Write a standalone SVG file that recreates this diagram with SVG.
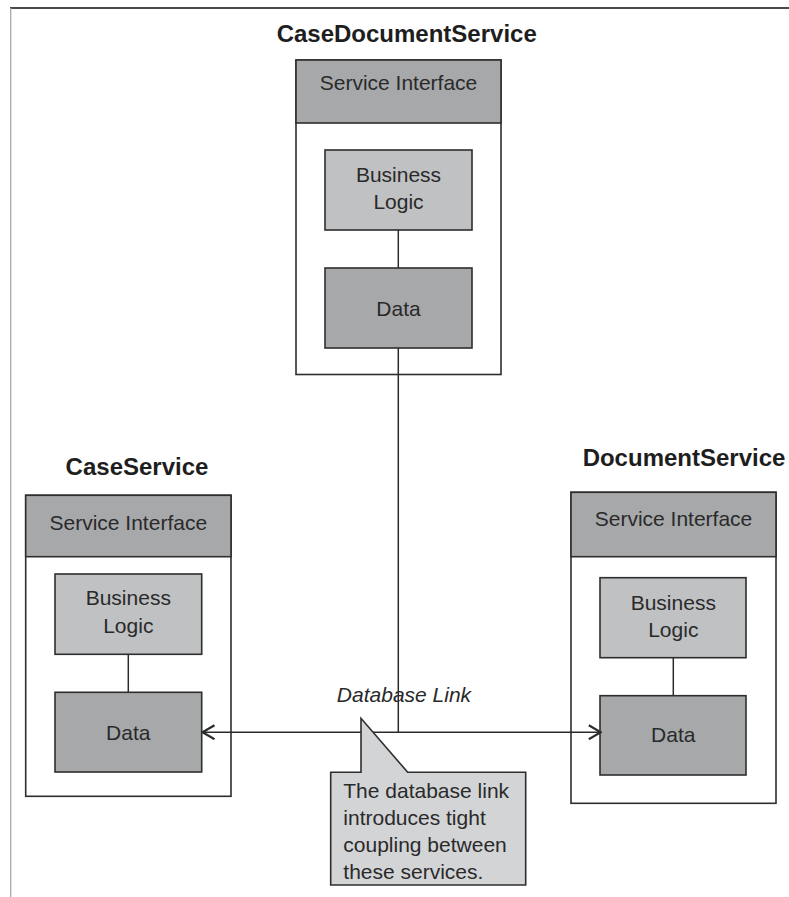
<svg xmlns="http://www.w3.org/2000/svg" width="789" height="897" viewBox="0 0 789 897">
  <style>
    .frame-top { stroke: #4a4a4a; stroke-width: 2; }
    .frame-left { stroke: #a8a8a8; stroke-width: 1.3; }
    .outer { fill: #ffffff; stroke: #2e2e2e; stroke-width: 1.6; }
    .iface { fill: #a7a8aa; stroke: #2e2e2e; stroke-width: 1.6; }
    .logic { fill: #c0c1c3; stroke: #2e2e2e; stroke-width: 1.6; }
    .data { fill: #a7a8aa; stroke: #2e2e2e; stroke-width: 1.6; }
    .note { fill: #d3d4d6; stroke: #2e2e2e; stroke-width: 1.6; stroke-linejoin: miter; }
    .link { fill: none; stroke: #2b2b2b; stroke-width: 1.5; }
    .title { font-family: "Liberation Sans", Arial, sans-serif; font-weight: bold; font-size: 24px; fill: #1e1e1e; text-anchor: middle; }
    .label { font-family: "Liberation Sans", Arial, sans-serif; font-size: 21px; fill: #2a2a2a; text-anchor: middle; }
    .italic { font-family: "Liberation Sans", Arial, sans-serif; font-style: italic; font-size: 21px; fill: #2a2a2a; text-anchor: middle; }
    .note-text { font-family: "Liberation Sans", Arial, sans-serif; font-size: 21px; fill: #2a2a2a; }
  </style>
  <defs>
    <marker id="chevron" viewBox="0 0 14 16" refX="13" refY="8" markerWidth="14" markerHeight="16" markerUnits="userSpaceOnUse" orient="auto-start-reverse">
      <path d="M1,1 L13,8 L1,15" fill="none" stroke="#2b2b2b" stroke-width="2.2"/>
    </marker>
  </defs>

  <rect x="0" y="0" width="789" height="897" fill="#ffffff"/>

  <!-- page frame -->
  <line class="frame-top" x1="10" y1="8" x2="789" y2="8"/>
  <line class="frame-left" x1="10.7" y1="8" x2="10.7" y2="897"/>

  <!-- CaseDocumentService -->
  <g id="case-document-service">
    <text class="title" x="406.7" y="41.5">CaseDocumentService</text>
    <rect class="outer" x="296" y="60" width="205" height="314.5"/>
    <rect class="iface" x="296" y="60" width="205" height="63"/>
    <text class="label" x="398.5" y="90">Service Interface</text>
    <rect class="logic" x="325" y="150" width="147" height="80"/>
    <text class="label" x="398.5" y="182">Business</text>
    <text class="label" x="398.5" y="208.5">Logic</text>
    <rect class="data" x="325" y="268" width="147" height="80"/>
    <text class="label" x="398.5" y="315.5">Data</text>
  </g>

  <!-- CaseService -->
  <g id="case-service">
    <text class="title" x="137" y="475">CaseService</text>
    <rect class="outer" x="25.7" y="495.3" width="205.3" height="301"/>
    <rect class="iface" x="25.7" y="495.3" width="205.3" height="61.4"/>
    <text class="label" x="128.3" y="530">Service Interface</text>
    <rect class="logic" x="55" y="574" width="146.7" height="80.3"/>
    <text class="label" x="128.3" y="605">Business</text>
    <text class="label" x="128.3" y="632.5">Logic</text>
    <rect class="data" x="55" y="692.3" width="146.7" height="79.7"/>
    <text class="label" x="128.3" y="740">Data</text>
  </g>

  <!-- DocumentService -->
  <g id="document-service">
    <text class="title" x="684" y="465.5">DocumentService</text>
    <rect class="outer" x="571" y="492.3" width="205" height="311"/>
    <rect class="iface" x="571" y="492.3" width="205" height="64.4"/>
    <text class="label" x="673.5" y="526">Service Interface</text>
    <rect class="logic" x="600" y="577.7" width="146" height="80"/>
    <text class="label" x="673.3" y="610">Business</text>
    <text class="label" x="673.3" y="636.5">Logic</text>
    <rect class="data" x="600" y="695.7" width="146" height="79.3"/>
    <text class="label" x="673.3" y="741.5">Data</text>
  </g>

  <!-- connectors -->
  <g id="connectors">
    <line class="link" x1="398.3" y1="230" x2="398.3" y2="268"/>
    <line class="link" x1="128.3" y1="654.3" x2="128.3" y2="692.3"/>
    <line class="link" x1="673.3" y1="657.7" x2="673.3" y2="695.7"/>
    <!-- database link: shared data store wired into both neighbours -->
    <line class="link" x1="398.3" y1="348" x2="398.3" y2="732.2"/>
    <line class="link" x1="202.5" y1="732.2" x2="600.8" y2="732.2" marker-start="url(#chevron)" marker-end="url(#chevron)"/>
    <text class="italic" x="404" y="701.5">Database Link</text>
  </g>

  <!-- annotation callout -->
  <g id="callout">
    <path class="note" d="M361,772.3 L361,718.3 L407.7,772.3 L525.7,772.3 L525.7,885 L330.7,885 L330.7,772.3 Z"/>
    <text class="note-text" x="343.3" y="797.7">The database link</text>
    <text class="note-text" x="343.3" y="825">introduces tight</text>
    <text class="note-text" x="343.3" y="852.3">coupling between</text>
    <text class="note-text" x="343.3" y="879.3">these services.</text>
  </g>
</svg>
